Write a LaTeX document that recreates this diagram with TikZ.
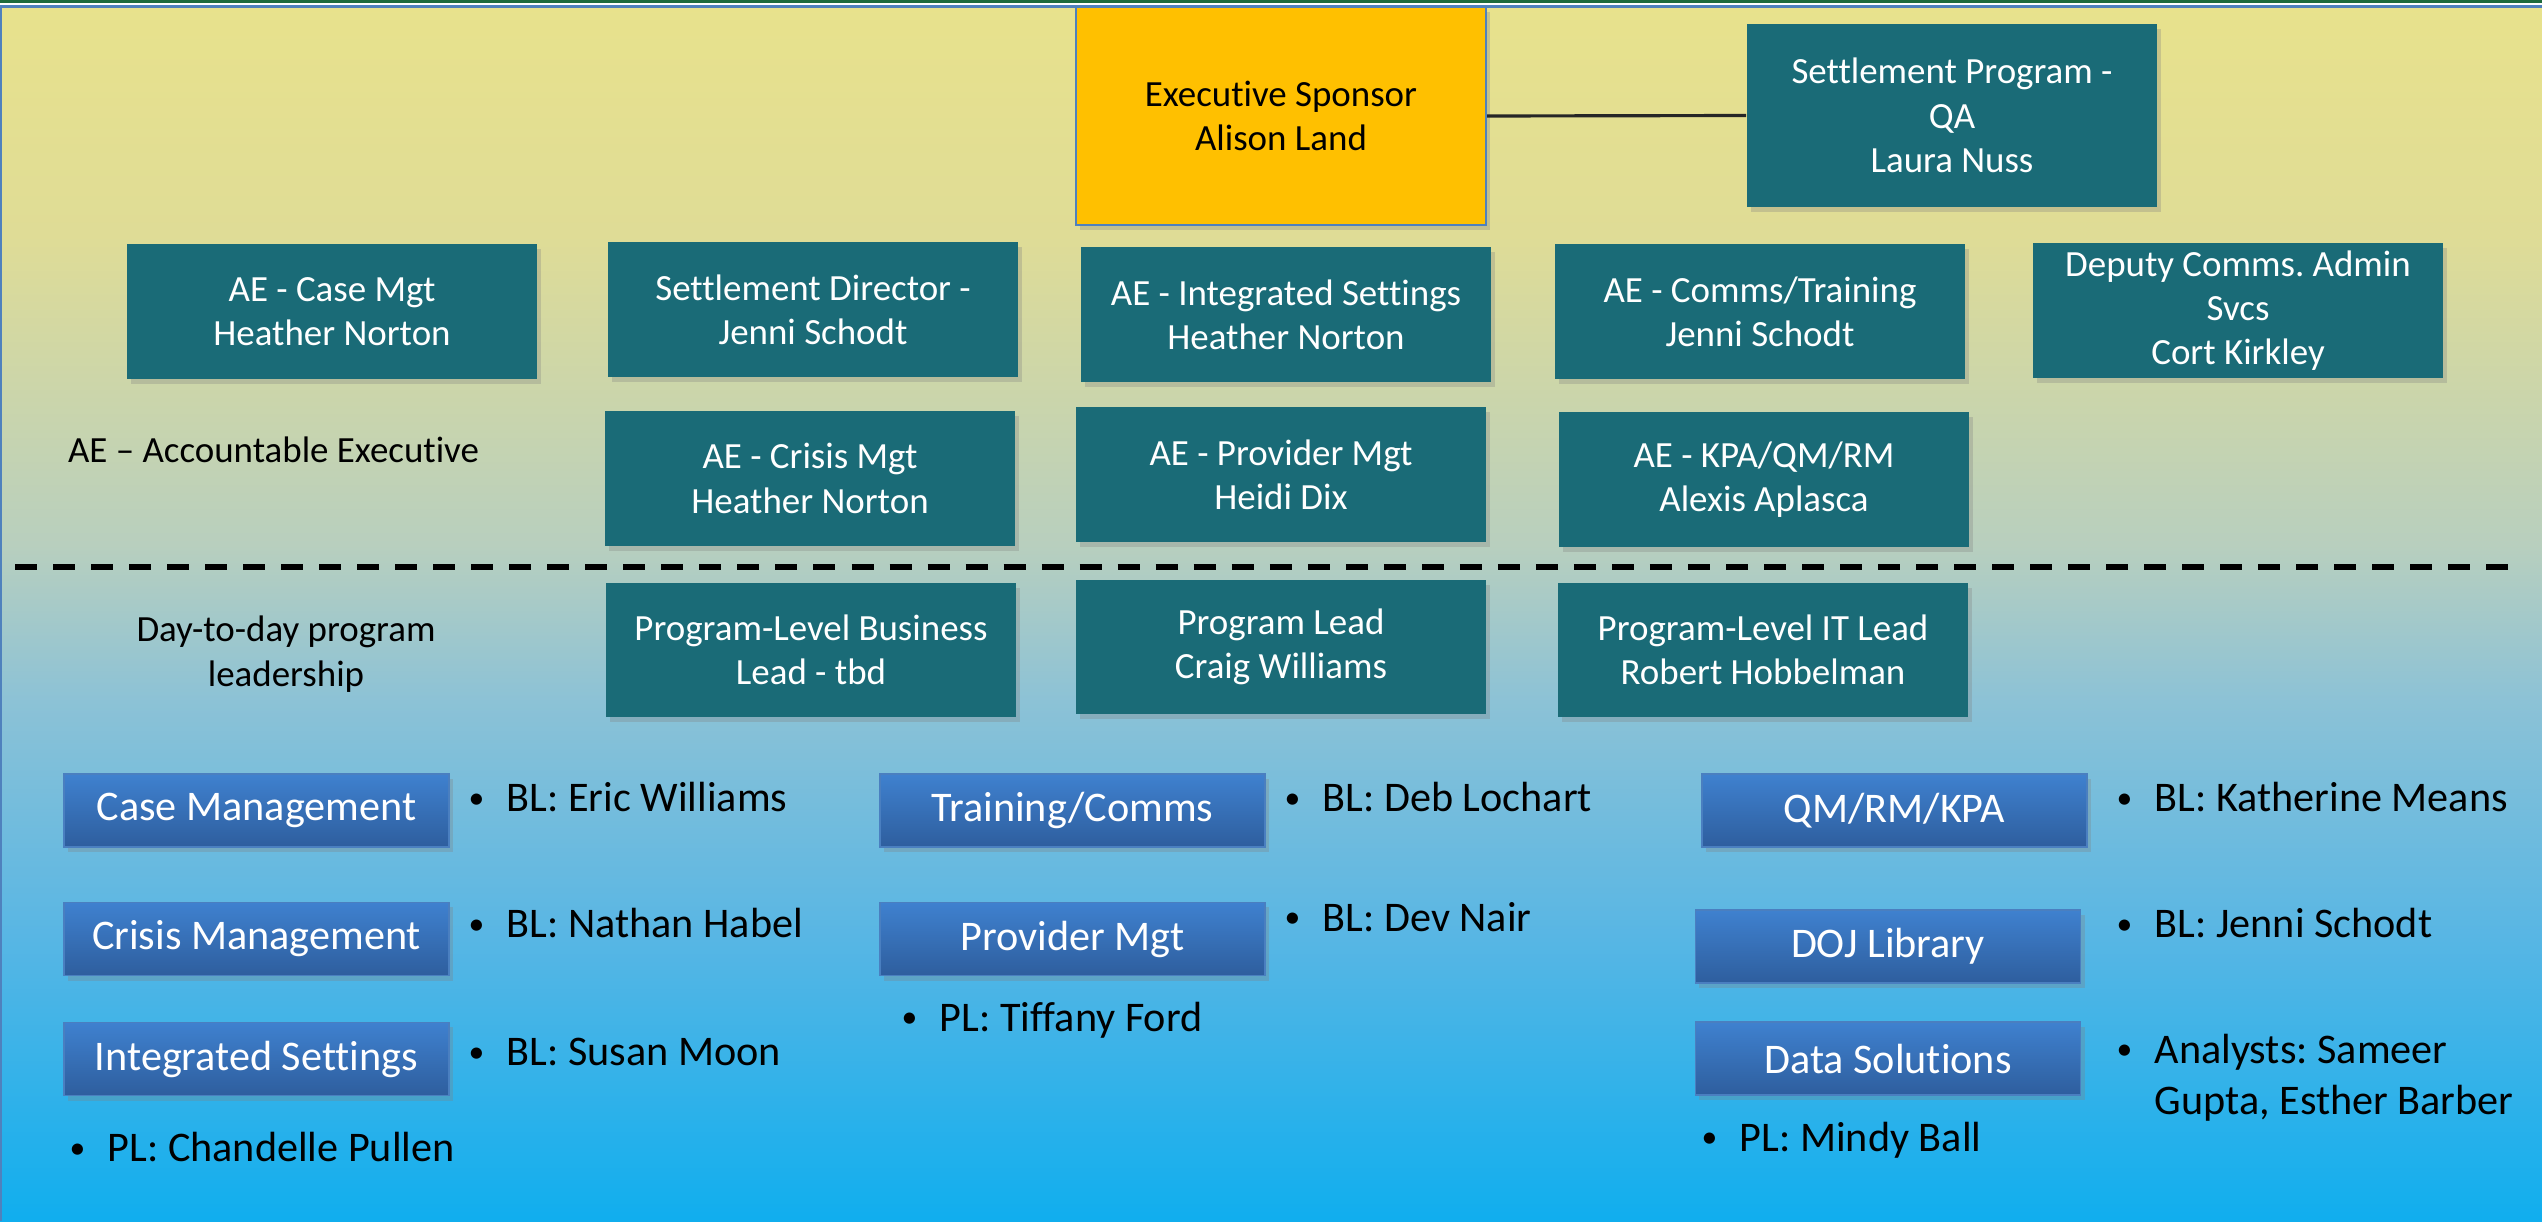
\documentclass[tikz,border=0pt]{standalone}
\usepackage{fontspec}
\setmainfont{Carlito}[Ligatures={NoCommon}]
\usetikzlibrary{shadows}
\frenchspacing

\definecolor{aeTeal}{HTML}{1A6B77}
\definecolor{sponsorGold}{HTML}{FFC000}
\definecolor{frameBlue}{HTML}{4F81BD}
\definecolor{topGreen}{HTML}{1E6B3C}
\definecolor{wsTop}{HTML}{3F81CF}
\definecolor{wsBot}{HTML}{2E5E9E}
\definecolor{wsEdge}{HTML}{4A7FC0}
\definecolor{bgA}{HTML}{E8E28C}
\definecolor{bgB}{HTML}{DFDC96}
\definecolor{bgC}{HTML}{B8CFBE}
\definecolor{bgD}{HTML}{8CC2D6}
\definecolor{bgE}{HTML}{58B6E4}
\definecolor{bgF}{HTML}{10AEEE}

\pgfdeclareverticalshading{pagefade}{100bp}{color(0bp)=(bgF); color(25bp)=(bgF);
  color(36.7bp)=(bgE); color(46.3bp)=(bgD); color(52.7bp)=(bgC);
  color(65.4bp)=(bgB); color(75bp)=(bgA); color(100bp)=(bgA)}

\tikzset{
  boxtext/.style={font=\fontsize{10.5}{12.6}\selectfont, align=center, inner sep=0pt},
  softshadow/.style={drop shadow={opacity=0.3, shadow xshift=0.04cm, shadow yshift=-0.05cm}},
  aebox/.style={boxtext, fill=aeTeal, text=white, minimum width=4.1cm,
    minimum height=1.35cm, softshadow},
  sponsorbox/.style={boxtext, fill=sponsorGold, draw=frameBlue, line width=0.6pt,
    minimum width=4.1cm, minimum height=2.18cm, softshadow},
  wsbox/.style={font=\fontsize{12}{14.4}\selectfont, text=white, top color=wsTop,
    bottom color=wsBot, draw=wsEdge, line width=0.4pt, minimum width=3.85cm,
    minimum height=0.73cm, inner sep=0pt, softshadow},
  bulletitem/.style={font=\fontsize{12}{14.5}\selectfont, anchor=west, align=left,
    inner sep=0pt},
}

\newcommand*{\Workstreams}[1]{% #1 = list of name/x/y/label
  \foreach \name/\x/\y/\lbl in {#1} {
    \node [wsbox] (\name) at (\x,\y) {\lbl};
  }%
}
\newcommand*{\BulletList}[1]{% #1 = list of name/x/y/text
  \foreach \name/\x/\y/\txt in {#1} {
    \node [bulletitem] (\name) at (\x,\y)
      {\makebox[0.38cm][l]{\raisebox{0.08em}{\scalebox{0.75}{\textbullet}}}\txt};
  }%
}

\begin{document}
\begin{tikzpicture}[x=0.01cm, y=-0.01cm]
  \useasboundingbox (0,0) rectangle (2542,1221);
  \shade [shading=pagefade] (0,0) rectangle (2542,1221);
  \fill [topGreen] (0,0) rectangle (2542,3);
  \fill [white] (0,3) rectangle (2542,5);
  \fill [frameBlue] (0,5) rectangle (2542,7.5);
  \draw [frameBlue, line width=0.6pt] (0.5,7) -- (0.5,1221);

  % leadership
  \node [sponsorbox] (sponsor) at (1281,116) {Executive Sponsor\\Alison Land};
  \node [aebox, minimum height=1.83cm] (qa) at (1952,115.5)
    {Settlement Program -\\QA\\Laura Nuss};
  \draw [black!85, line width=0.9pt] (sponsor.east) -- (qa.west);

  % accountable executives
  \node [aebox] (aeCase)   at (332,311.5)  {AE - Case Mgt\\Heather Norton};
  \node [aebox] (setDir)   at (813,309.5)  {Settlement Director -\\Jenni Schodt};
  \node [aebox] (aeInteg)  at (1286,314.5) {AE - Integrated Settings\\Heather Norton};
  \node [aebox] (aeComms)  at (1760,311.5) {AE - Comms/Training\\Jenni Schodt};
  \node [aebox] (deputy)   at (2238,310.5) {Deputy Comms. Admin\\Svcs\\Cort Kirkley};
  \node [aebox] (aeCrisis) at (810,478.5)  {AE - Crisis Mgt\\Heather Norton};
  \node [aebox] (aeProv)   at (1281,474.5) {AE - Provider Mgt\\Heidi Dix};
  \node [aebox] (aeKpa)    at (1764,479.5) {AE - KPA/QM/RM\\Alexis Aplasca};
  \node [boxtext] (aeNote) at (273.5,450) {AE -- Accountable Executive};

  \coordinate (sepL) at (15,567);
  \coordinate (sepR) at (2512,567);
  \draw [line width=1.7pt, dash pattern=on 0.22cm off 0.16cm] (sepL) -- (sepR);

  % day-to-day
  \node [aebox, minimum height=1.33cm] (busLead)  at (811,650)  {Program-Level Business\\Lead - tbd};
  \node [aebox, minimum height=1.33cm] (progLead) at (1281,647) {Program Lead\\Craig Williams};
  \node [aebox, minimum height=1.33cm] (itLead)   at (1763,650) {Program-Level IT Lead\\Robert Hobbelman};
  \node [boxtext] (dayNote) at (286,654) {Day-to-day program\\leadership};

  \Workstreams{caseM/256.5/810.5/Case Management, crisisM/256.5/939/Crisis Management,
    integS/256.5/1059/Integrated Settings, trainC/1072.5/810.5/{Training/Comms},
    provM/1072.5/939/Provider Mgt, qmrm/1894.5/810.5/{QM/RM/KPA},
    doj/1888/946.5/DOJ Library, dataS/1888/1058.5/Data Solutions}

  \BulletList{blEric/468/797/BL: Eric Williams, blNathan/468/923/BL: Nathan Habel,
    blSusan/468/1052/BL: Susan Moon, plChandelle/69/1147/PL: Chandelle Pullen,
    blDeb/1284/797/BL: Deb Lochart, blDev/1284/917/BL: Dev Nair,
    plTiffany/901/1020/PL: Tiffany Ford, blKatherine/2116/797/BL: Katherine Means,
    blJenni/2116/923/BL: Jenni Schodt, plMindy/1701/1140/PL: Mindy Ball,
    analysts/2116/1077.5/{Analysts: Sameer\\\hspace*{0.38cm}Gupta, Esther Barber}}
\end{tikzpicture}
\end{document}
